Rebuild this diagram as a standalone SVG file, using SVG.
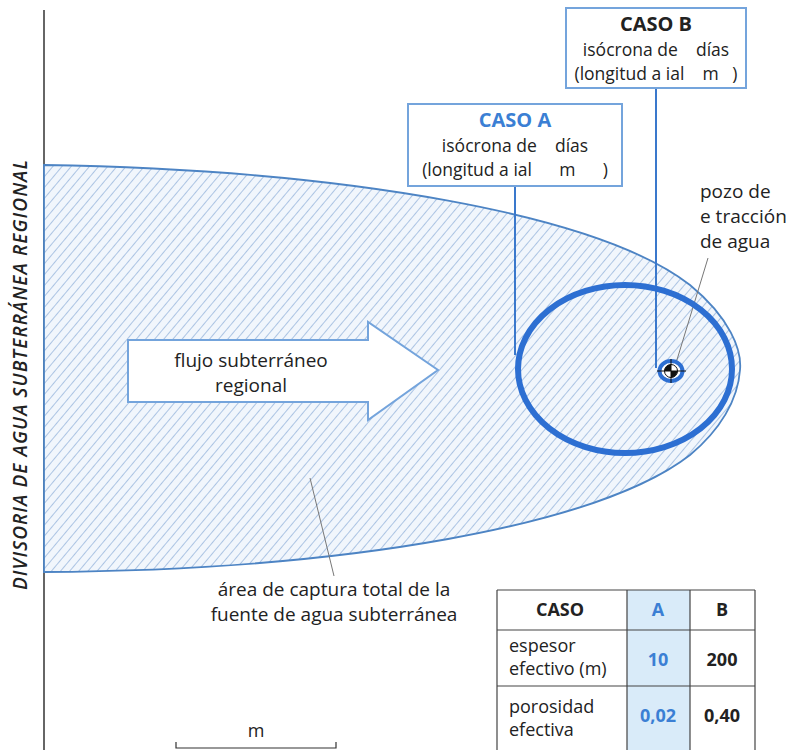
<svg xmlns="http://www.w3.org/2000/svg" width="794" height="750" viewBox="0 0 794 750">
<defs>
<pattern id="hatch" patternUnits="userSpaceOnUse" width="7" height="7" patternTransform="rotate(40)">
<rect width="7" height="7" fill="#f1f6fc"/>
<line x1="0" y1="0" x2="0" y2="7" stroke="#86a9d6" stroke-width="1.3"/>
</pattern>
</defs>
<style>
text{font-family:"Open Sans","Noto Sans",sans-serif;fill:#222;}
.t{font-size:19px;}
.bx{font-size:17.5px;}
.b{font-weight:bold;}
.blue{fill:#3b7fd4;}
.box{fill:#fff;stroke:#74a4dc;stroke-width:2;}
.lead{stroke:#777;stroke-width:1;fill:none;}
.conn{stroke:#3a78cc;stroke-width:2;fill:none;}
.grid{stroke:#444;stroke-width:1.2;fill:none;}
.tb{font-size:18px;}
</style>
<rect width="794" height="750" fill="#fff"/>
<g id="divisoria">
<line x1="44" y1="10" x2="44" y2="750" stroke="#333" stroke-width="1.5"/>
<text transform="translate(27,375) rotate(-90)" text-anchor="middle" textLength="430" lengthAdjust="spacing" style="font-size:19px;font-style:italic;font-weight:600">DIVISORIA DE AGUA SUBTERRÁNEA REGIONAL</text>
</g>
<g id="area-captura">
<path d="M44,165 C350,170 600,215 690,285 C730,318 742,350 740,370 C738,400 720,430 690,455 C600,525 350,570 44,572 Z" fill="url(#hatch)" stroke="#4d84c4" stroke-width="1.8"/>
</g>
<g id="connectors">
<line class="conn" x1="515" y1="186" x2="515" y2="355"/>
<line class="conn" x1="656" y1="88" x2="656" y2="368"/>
<line class="lead" x1="708" y1="258" x2="676" y2="363"/>
<line class="lead" x1="310" y1="478" x2="334" y2="576"/>
</g>
<g id="isocrona-A">
<ellipse cx="625" cy="369" rx="107" ry="84" fill="none" stroke="#2d6fd2" stroke-width="6"/>
</g>
<g id="pozo">
<ellipse cx="671" cy="371" rx="11.5" ry="10" fill="#fff" stroke="#2d6fd2" stroke-width="4"/>
<circle cx="671" cy="371" r="6.5" fill="#fff" stroke="#111" stroke-width="1"/>
<path d="M671,371 L671,364.5 A6.5,6.5 0 0 0 664.5,371 Z" fill="#111"/>
<path d="M671,371 L671,377.5 A6.5,6.5 0 0 0 677.5,371 Z" fill="#111"/>
<line x1="657" y1="371" x2="686" y2="371" stroke="#111" stroke-width="1"/>
<line x1="671" y1="359" x2="671" y2="383" stroke="#111" stroke-width="1"/>
</g>
<g id="flujo">
<path class="box" d="M128,340 L368,340 L368,322 L438,370 L368,420 L368,402 L128,402 Z"/>
<text class="t" x="251" y="367" text-anchor="middle">flujo subterráneo</text>
<text class="t" x="251" y="392" text-anchor="middle">regional</text>
</g>
<g id="caso-A">
<rect class="box" x="408" y="104" width="214" height="82"/>
<text class="b blue" x="515" y="127" text-anchor="middle" style="font-size:20px">CASO A</text>
<text class="bx" x="515" y="152" text-anchor="middle" xml:space="preserve">isócrona de    días</text>
<text class="bx" x="515" y="176" text-anchor="middle" xml:space="preserve">(longitud a ial      m      )</text>
</g>
<g id="caso-B">
<rect class="box" x="566" y="8" width="180" height="80"/>
<text class="b" x="656" y="31" text-anchor="middle" style="font-size:20px">CASO B</text>
<text class="bx" x="656" y="56" text-anchor="middle" xml:space="preserve">isócrona de    días</text>
<text class="bx" x="656" y="80" text-anchor="middle" xml:space="preserve">(longitud a ial    m   )</text>
</g>
<g id="pozo-label">
<text class="t" x="700" y="198">pozo de</text>
<text class="t" x="700" y="223">e tracción</text>
<text class="t" x="700" y="248">de agua</text>
</g>
<g id="area-label">
<text class="t" x="334" y="596" text-anchor="middle">área de captura total de la</text>
<text class="t" x="334" y="621" text-anchor="middle">fuente de agua subterránea</text>
</g>
<g id="tabla">
<rect x="627" y="590" width="63" height="160" fill="#d9ebf9"/>
<line class="grid" x1="497" y1="590" x2="755" y2="590"/>
<line class="grid" x1="497" y1="630" x2="755" y2="630"/>
<line class="grid" x1="497" y1="686" x2="755" y2="686"/>
<line class="grid" x1="497" y1="590" x2="497" y2="750"/>
<line class="grid" x1="627" y1="590" x2="627" y2="750"/>
<line class="grid" x1="690" y1="590" x2="690" y2="750"/>
<line class="grid" x1="755" y1="590" x2="755" y2="750"/>
<text class="b tb" x="560" y="616" text-anchor="middle">CASO</text>
<text class="b blue tb" x="658" y="616" text-anchor="middle">A</text>
<text class="b tb" x="722" y="616" text-anchor="middle">B</text>
<text class="tb" x="509" y="652">espesor</text>
<text class="tb" x="509" y="675">efectivo (m)</text>
<text class="b blue tb" x="658" y="666" text-anchor="middle">10</text>
<text class="b tb" x="722" y="666" text-anchor="middle">200</text>
<text class="tb" x="509" y="713">porosidad</text>
<text class="tb" x="509" y="736">efectiva</text>
<text class="b blue tb" x="658" y="722" text-anchor="middle">0,02</text>
<text class="b tb" x="722" y="722" text-anchor="middle">0,40</text>
</g>
<g id="escala">
<text class="tb" x="256" y="737" text-anchor="middle">m</text>
<path d="M176,742 L176,748 L336,748 L336,742" fill="none" stroke="#333" stroke-width="1.2"/>
</g>
</svg>
